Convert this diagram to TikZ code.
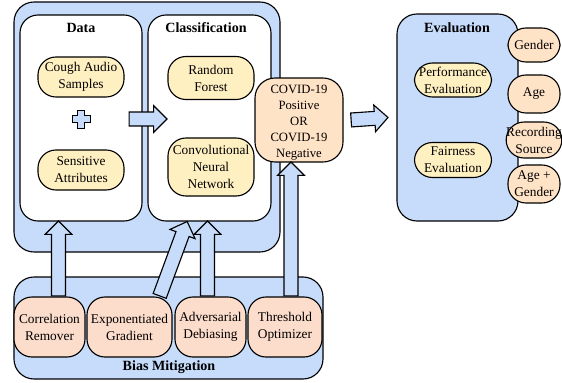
\documentclass[tikz,border=0pt]{standalone}
\usepackage{fontspec}
\setmainfont{Liberation Serif}
\newfontfamily\tnr{Liberation Serif}
\usetikzlibrary{fit,calc,shapes.arrows}
\definecolor{boxblue}{HTML}{C6DCFA}
\definecolor{lightyel}{HTML}{FFF0C2}
\definecolor{peach}{HTML}{FFE3C6}
\definecolor{salmon}{HTML}{FCDCCB}
\begin{document}
\begin{tikzpicture}[x=0.025cm,y=-0.025cm,
  every node/.style={font=\tnr\fontsize{9.5}{12}\selectfont},
  panel/.style={draw,thick,rounded corners=0.5cm,inner sep=0pt},
  alg/.style={draw,thick,fill=lightyel,rounded corners=0.45cm,minimum width=2.15cm,align=center,inner sep=1pt},
  group/.style={draw,thick,fill=peach,rounded corners=0.45cm,minimum width=1.3cm,align=center,inner sep=0pt},
  mitig/.style={draw,thick,fill=salmon,rounded corners=0.45cm,minimum height=1.5cm,align=center,inner sep=0pt},
  ttl/.style={font=\tnr\fontsize{10}{12}\selectfont\bfseries},
  fatarrow/.style={single arrow,draw,thick,fill=boxblue,inner xsep=0pt,inner ysep=0.16cm,
    text height=0pt,text depth=0pt,single arrow head extend=0.16cm}]
\useasboundingbox (0,0) rectangle (562,383);
% data and classification
\node[panel,fill=boxblue,fit={(14,2)(280,252)}] (outer) {};
\node[panel,fill=white,rounded corners=0.45cm,fit={(20,15)(142,221)}] (data) {};
\node[panel,fill=white,rounded corners=0.45cm,fit={(148,15)(271,221)}] (class) {};
\node[ttl] (datattl) at (81,28) {Data};
\node[ttl] (classttl) at (206,28) {Classification};
\node[alg,minimum height=1cm] (cough) at (81,77) {Cough Audio\\Samples};
\node[alg,minimum height=1cm] (sens) at (81,170) {Sensitive\\Attributes};
\draw[semithick,fill=boxblue] (77.5,110)--(84.5,110)--(84.5,115.5)--(90,115.5)--(90,122.5)--(84.5,122.5)
  --(84.5,128)--(77.5,128)--(77.5,122.5)--(72,122.5)--(72,115.5)--(77.5,115.5)--cycle;
\node[alg,minimum height=1.075cm] (rf) at (211,78) {Random\\Forest};
\node[alg,minimum height=1.45cm] (cnn) at (211,167) {Convolutional\\Neural\\Network};
% output
\node[panel,fill=peach,fit={(255,78)(343,162)}] (covid) {};
\node[align=center,font=\tnr\fontsize{9}{11.4}\selectfont] (covidtxt) at (299,123)
  {COVID-19\\Positive\\OR\\COVID-19\\Negative};
% evaluation
\node[panel,fill=boxblue,fit={(397,14)(518,221)}] (eval) {};
\node[ttl] (evalttl) at (457,28) {Evaluation};
\node[alg,minimum width=1.925cm,minimum height=0.85cm] (perf) at (453,80) {Performance\\Evaluation};
\node[alg,minimum width=1.925cm,minimum height=0.875cm] (fair) at (453,160) {Fairness\\Evaluation};
\node[group,minimum height=0.85cm] (gender) at (534,45) {Gender};
\node[group,minimum height=0.95cm] (age) at (534,94) {Age};
\node[group,minimum height=0.9cm] (rec) at (534,140) {Recording\\Source};
\node[group,minimum height=0.95cm] (agegen) at (534,184) {Age +\\Gender};
% bias mitigation
\node[panel,fill=boxblue,fit={(14,277)(323,379)}] (bias) {};
\node[ttl] (biasttl) at (169,367) {Bias Mitigation};
\node[mitig,minimum width=1.775cm] (corr) at (49.5,327) {Correlation\\Remover};
\node[mitig,minimum width=2.125cm] (expgrad) at (129.5,327) {Exponentiated\\Gradient};
\node[mitig,minimum width=1.775cm] (adv) at (210.5,327) {Adversarial\\Debiasing};
\node[mitig,minimum width=1.85cm] (thr) at (285,327) {Threshold\\Optimizer};
% arrows
\coordinate (a1) at ($(data.east)+(-14,1)$);
\coordinate (b1) at ($(class.west)+(19,1)$);
\coordinate (a2) at ($(covid.east)+(7,0)$);
\coordinate (b2) at ($(eval.west)+(-9,0)$);
\coordinate (a3) at ($(corr.north)+(9,0)$);
\coordinate (a4) at ($(expgrad.north)+(30,0)$);
\coordinate (b4) at (187,222);
\coordinate (a5) at ($(adv.north)+(-3,0)$);
\coordinate (a6) at ($(thr.north)+(6,0)$);
\foreach \s/\e in {a1/b1,a2/b2,a3/a3 |- data.south,a4/b4,a5/a5 |- class.south,a6/a6 |- covid.south}
  \path let \p1=(\s),\p2=(\e),\n1={atan2(\y2-\y1,\x2-\x1)},\n2={veclen(\x2-\x1,\y2-\y1)} in
    (\p1) node[fatarrow,minimum height=\n2,rotate=\n1,anchor=tail]{};
\end{tikzpicture}
\end{document}
